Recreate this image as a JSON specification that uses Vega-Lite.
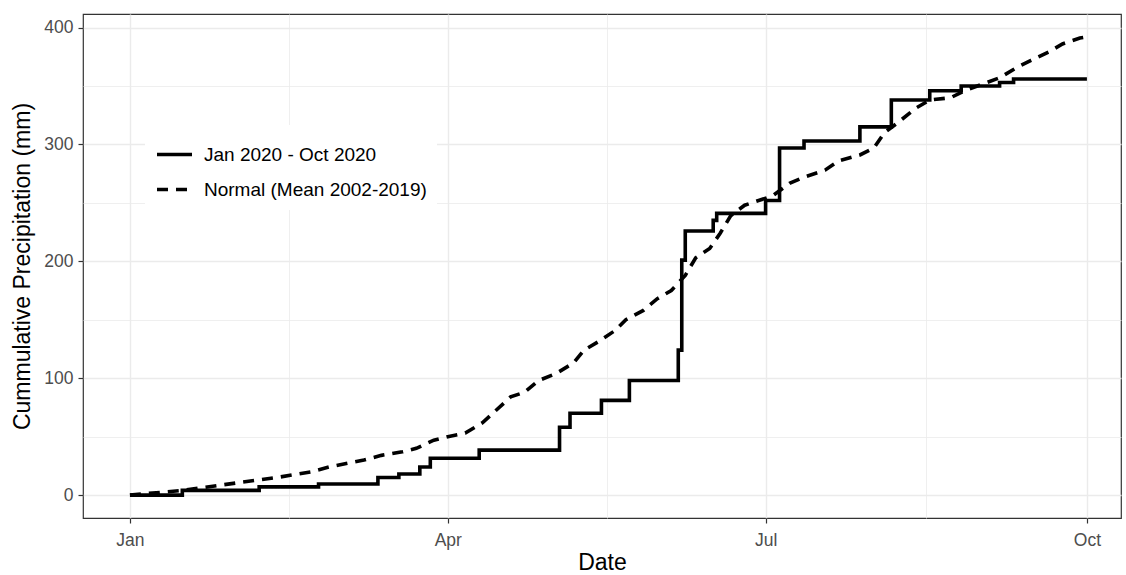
{
  "$schema": "https://vega.github.io/schema/vega-lite/v6.json",
  "width": 1038,
  "height": 504,
  "autosize": {"type": "none"},
  "padding": {"left": 83, "top": 14, "right": 5, "bottom": 57},
  "background": "white",
  "config": {
    "view": {"stroke": "#333333", "strokeWidth": 1.2},
    "font": "Liberation Sans",
    "axis": {
      "labelFont": "Liberation Sans",
      "titleFont": "Liberation Sans",
      "labelFontSize": 17.5,
      "titleFontSize": 23,
      "labelColor": "#4D4D4D",
      "titleColor": "#000000",
      "titleFontWeight": "normal",
      "domain": false,
      "tickColor": "#333333",
      "tickSize": 5,
      "tickWidth": 1.2,
      "gridColor": "#EBEBEB"
    },
    "legend": {
      "labelFont": "Liberation Sans",
      "labelFontSize": 19,
      "labelColor": "#000000",
      "labelLimit": 0
    }
  },
  "data": {
    "values": [
      {"date": "2020-01-01", "value": 0, "series": "Jan 2020 - Oct 2020"},
      {"date": "2020-01-16", "value": 4, "series": "Jan 2020 - Oct 2020"},
      {"date": "2020-02-07", "value": 7, "series": "Jan 2020 - Oct 2020"},
      {"date": "2020-02-24", "value": 9.5, "series": "Jan 2020 - Oct 2020"},
      {"date": "2020-03-12", "value": 15, "series": "Jan 2020 - Oct 2020"},
      {"date": "2020-03-18", "value": 18, "series": "Jan 2020 - Oct 2020"},
      {"date": "2020-03-24", "value": 24, "series": "Jan 2020 - Oct 2020"},
      {"date": "2020-03-27", "value": 31.5, "series": "Jan 2020 - Oct 2020"},
      {"date": "2020-04-10", "value": 38.5, "series": "Jan 2020 - Oct 2020"},
      {"date": "2020-05-03", "value": 58, "series": "Jan 2020 - Oct 2020"},
      {"date": "2020-05-06", "value": 70, "series": "Jan 2020 - Oct 2020"},
      {"date": "2020-05-15", "value": 81, "series": "Jan 2020 - Oct 2020"},
      {"date": "2020-05-23", "value": 98, "series": "Jan 2020 - Oct 2020"},
      {"date": "2020-06-06", "value": 124, "series": "Jan 2020 - Oct 2020"},
      {"date": "2020-06-07", "value": 201, "series": "Jan 2020 - Oct 2020"},
      {"date": "2020-06-08", "value": 226, "series": "Jan 2020 - Oct 2020"},
      {"date": "2020-06-16", "value": 235, "series": "Jan 2020 - Oct 2020"},
      {"date": "2020-06-17", "value": 241, "series": "Jan 2020 - Oct 2020"},
      {"date": "2020-07-01", "value": 252, "series": "Jan 2020 - Oct 2020"},
      {"date": "2020-07-05", "value": 297, "series": "Jan 2020 - Oct 2020"},
      {"date": "2020-07-12", "value": 303, "series": "Jan 2020 - Oct 2020"},
      {"date": "2020-07-28", "value": 315, "series": "Jan 2020 - Oct 2020"},
      {"date": "2020-08-06", "value": 338, "series": "Jan 2020 - Oct 2020"},
      {"date": "2020-08-17", "value": 346, "series": "Jan 2020 - Oct 2020"},
      {"date": "2020-08-26", "value": 350, "series": "Jan 2020 - Oct 2020"},
      {"date": "2020-09-06", "value": 353, "series": "Jan 2020 - Oct 2020"},
      {"date": "2020-09-10", "value": 356, "series": "Jan 2020 - Oct 2020"},
      {"date": "2020-10-01", "value": 356, "series": "Jan 2020 - Oct 2020"},
      {"date": "2020-01-01", "value": 0, "series": "Normal (Mean 2002-2019)"},
      {"date": "2020-01-16", "value": 4, "series": "Normal (Mean 2002-2019)"},
      {"date": "2020-02-02", "value": 11, "series": "Normal (Mean 2002-2019)"},
      {"date": "2020-02-12", "value": 15, "series": "Normal (Mean 2002-2019)"},
      {"date": "2020-02-22", "value": 20, "series": "Normal (Mean 2002-2019)"},
      {"date": "2020-02-27", "value": 24, "series": "Normal (Mean 2002-2019)"},
      {"date": "2020-03-08", "value": 30, "series": "Normal (Mean 2002-2019)"},
      {"date": "2020-03-13", "value": 34, "series": "Normal (Mean 2002-2019)"},
      {"date": "2020-03-19", "value": 37, "series": "Normal (Mean 2002-2019)"},
      {"date": "2020-03-23", "value": 40, "series": "Normal (Mean 2002-2019)"},
      {"date": "2020-03-28", "value": 47, "series": "Normal (Mean 2002-2019)"},
      {"date": "2020-04-01", "value": 50, "series": "Normal (Mean 2002-2019)"},
      {"date": "2020-04-06", "value": 53, "series": "Normal (Mean 2002-2019)"},
      {"date": "2020-04-11", "value": 62, "series": "Normal (Mean 2002-2019)"},
      {"date": "2020-04-15", "value": 73, "series": "Normal (Mean 2002-2019)"},
      {"date": "2020-04-19", "value": 84, "series": "Normal (Mean 2002-2019)"},
      {"date": "2020-04-23", "value": 88, "series": "Normal (Mean 2002-2019)"},
      {"date": "2020-04-27", "value": 98, "series": "Normal (Mean 2002-2019)"},
      {"date": "2020-05-02", "value": 104, "series": "Normal (Mean 2002-2019)"},
      {"date": "2020-05-07", "value": 113, "series": "Normal (Mean 2002-2019)"},
      {"date": "2020-05-10", "value": 124, "series": "Normal (Mean 2002-2019)"},
      {"date": "2020-05-14", "value": 131, "series": "Normal (Mean 2002-2019)"},
      {"date": "2020-05-19", "value": 141, "series": "Normal (Mean 2002-2019)"},
      {"date": "2020-05-22", "value": 150, "series": "Normal (Mean 2002-2019)"},
      {"date": "2020-05-27", "value": 158, "series": "Normal (Mean 2002-2019)"},
      {"date": "2020-05-31", "value": 168, "series": "Normal (Mean 2002-2019)"},
      {"date": "2020-06-04", "value": 175, "series": "Normal (Mean 2002-2019)"},
      {"date": "2020-06-08", "value": 188, "series": "Normal (Mean 2002-2019)"},
      {"date": "2020-06-11", "value": 203, "series": "Normal (Mean 2002-2019)"},
      {"date": "2020-06-15", "value": 211, "series": "Normal (Mean 2002-2019)"},
      {"date": "2020-06-18", "value": 224, "series": "Normal (Mean 2002-2019)"},
      {"date": "2020-06-21", "value": 239, "series": "Normal (Mean 2002-2019)"},
      {"date": "2020-06-25", "value": 248, "series": "Normal (Mean 2002-2019)"},
      {"date": "2020-06-29", "value": 252, "series": "Normal (Mean 2002-2019)"},
      {"date": "2020-07-03", "value": 256, "series": "Normal (Mean 2002-2019)"},
      {"date": "2020-07-08", "value": 267, "series": "Normal (Mean 2002-2019)"},
      {"date": "2020-07-12", "value": 272, "series": "Normal (Mean 2002-2019)"},
      {"date": "2020-07-18", "value": 278, "series": "Normal (Mean 2002-2019)"},
      {"date": "2020-07-22", "value": 286, "series": "Normal (Mean 2002-2019)"},
      {"date": "2020-07-28", "value": 291, "series": "Normal (Mean 2002-2019)"},
      {"date": "2020-08-01", "value": 297, "series": "Normal (Mean 2002-2019)"},
      {"date": "2020-08-04", "value": 310, "series": "Normal (Mean 2002-2019)"},
      {"date": "2020-08-08", "value": 319, "series": "Normal (Mean 2002-2019)"},
      {"date": "2020-08-13", "value": 331, "series": "Normal (Mean 2002-2019)"},
      {"date": "2020-08-17", "value": 338, "series": "Normal (Mean 2002-2019)"},
      {"date": "2020-08-23", "value": 340, "series": "Normal (Mean 2002-2019)"},
      {"date": "2020-08-27", "value": 346, "series": "Normal (Mean 2002-2019)"},
      {"date": "2020-09-06", "value": 357, "series": "Normal (Mean 2002-2019)"},
      {"date": "2020-09-11", "value": 366, "series": "Normal (Mean 2002-2019)"},
      {"date": "2020-09-15", "value": 372, "series": "Normal (Mean 2002-2019)"},
      {"date": "2020-09-20", "value": 379, "series": "Normal (Mean 2002-2019)"},
      {"date": "2020-09-24", "value": 386, "series": "Normal (Mean 2002-2019)"},
      {"date": "2020-09-29", "value": 391, "series": "Normal (Mean 2002-2019)"},
      {"date": "2020-10-01", "value": 392, "series": "Normal (Mean 2002-2019)"}
    ]
  },
  "encoding": {
    "x": {
      "field": "date",
      "type": "temporal",
      "title": "Date",
      "scale": {
        "type": "utc",
        "domain": [
          {"year": 2019, "month": 12, "date": 18, "hours": 13, "minutes": 26, "utc": true},
          {"year": 2020, "month": 10, "date": 10, "hours": 18, "minutes": 14, "utc": true}
        ],
        "nice": false
      },
      "axis": {
        "values": [
          {"year": 2020, "month": 1, "date": 1, "utc": true},
          {"year": 2020, "month": 2, "date": 15, "hours": 12, "utc": true},
          {"year": 2020, "month": 4, "date": 1, "utc": true},
          {"year": 2020, "month": 5, "date": 16, "hours": 12, "utc": true},
          {"year": 2020, "month": 7, "date": 1, "utc": true},
          {"year": 2020, "month": 8, "date": 16, "utc": true},
          {"year": 2020, "month": 10, "date": 1, "utc": true}
        ],
        "labelExpr": "utcmonth(datum.value) % 3 == 0 ? utcFormat(datum.value, '%b') : ''",
        "tickOpacity": {"condition": {"test": "utcmonth(datum.value) % 3 != 0", "value": 0}, "value": 1},
        "gridWidth": {"condition": {"test": "utcmonth(datum.value) % 3 != 0", "value": 0.8}, "value": 1.4},
        "labelPadding": 8,
        "titlePadding": 3,
        "labelFlush": false,
        "labelOverlap": false
      }
    },
    "y": {
      "field": "value",
      "type": "quantitative",
      "title": "Cummulative Precipitation (mm)",
      "scale": {"domain": [-19.6, 411.6], "nice": false, "zero": false},
      "axis": {
        "values": [0, 50, 100, 150, 200, 250, 300, 350, 400],
        "labelExpr": "datum.value % 100 == 0 ? datum.label : ''",
        "tickOpacity": {"condition": {"test": "datum.value % 100 != 0", "value": 0}, "value": 1},
        "gridWidth": {"condition": {"test": "datum.value % 100 != 0", "value": 0.8}, "value": 1.4},
        "labelPadding": 5,
        "titlePadding": 9,
        "labelOverlap": false
      }
    },
    "strokeDash": {
      "field": "series",
      "type": "nominal",
      "scale": {
        "domain": ["Jan 2020 - Oct 2020", "Normal (Mean 2002-2019)"],
        "range": [[1, 0], [11, 8]]
      },
      "legend": {
        "title": null,
        "orient": "none",
        "legendX": 62,
        "legendY": 111,
        "padding": 10,
        "fillColor": "white",
        "symbolType": "stroke",
        "symbolSize": 1225,
        "symbolStrokeWidth": 3.6,
        "symbolStrokeColor": "black",
        "labelOffset": 10,
        "rowPadding": 5
      }
    }
  },
  "layer": [
    {
      "transform": [{"filter": "datum.series == 'Jan 2020 - Oct 2020'"}],
      "mark": {"type": "line", "interpolate": "step-after", "color": "black", "strokeWidth": 3.6}
    },
    {
      "transform": [{"filter": "datum.series == 'Normal (Mean 2002-2019)'"}],
      "mark": {"type": "line", "interpolate": "linear", "color": "black", "strokeWidth": 3.6}
    }
  ]
}
